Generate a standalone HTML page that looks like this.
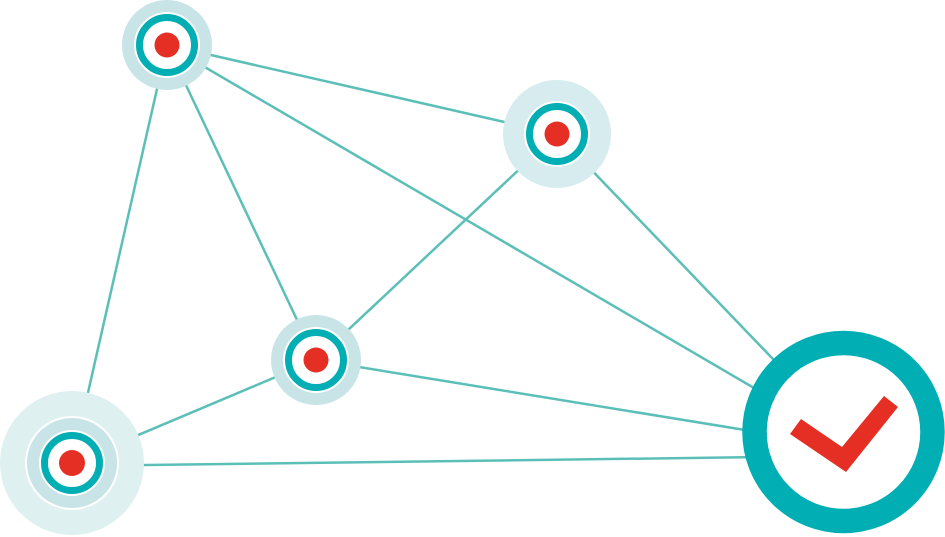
<!DOCTYPE html><html><head><style>html,body{margin:0;padding:0;background:#fff}svg{display:block}</style></head><body>
<svg width="945" height="537" viewBox="0 0 945 537">
<g stroke="#5bbfb8" stroke-width="2.5" fill="none">
<line x1="167" y1="45" x2="557" y2="134"/>
<line x1="167" y1="45" x2="843" y2="440"/>
<line x1="167" y1="45" x2="316" y2="360"/>
<line x1="167" y1="45" x2="72" y2="463"/>
<line x1="557" y1="134" x2="316" y2="360"/>
<line x1="557" y1="134" x2="843" y2="432"/>
<line x1="316" y1="360" x2="72" y2="463"/>
<line x1="316" y1="360" x2="843" y2="446"/>
<line x1="72" y1="466" x2="843" y2="456"/>
</g>
<g>
<circle cx="72" cy="463" r="72" fill="#dff0f1"/>
<circle cx="72" cy="463" r="47" fill="#fff"/>
<circle cx="72" cy="463" r="45" fill="#c8e4e7"/>
<circle cx="72" cy="463" r="33" fill="#fff"/>
<circle cx="72" cy="463" r="27.5" fill="none" stroke="#00aeb3" stroke-width="7"/>
<circle cx="72" cy="463" r="13" fill="#e52f25"/>
</g>
<g>
<circle cx="167" cy="45" r="45" fill="#c8e4e7"/>
<circle cx="167" cy="45" r="33" fill="#fff"/>
<circle cx="167" cy="45" r="27.5" fill="none" stroke="#00aeb3" stroke-width="7"/>
<circle cx="167" cy="45" r="12.5" fill="#e52f25"/>
</g>
<g>
<circle cx="557" cy="134" r="54" fill="#d6ecee"/>
<circle cx="557" cy="134" r="33" fill="#fff"/>
<circle cx="557" cy="134" r="27.5" fill="none" stroke="#00aeb3" stroke-width="7"/>
<circle cx="557" cy="134" r="12.5" fill="#e52f25"/>
</g>
<g>
<circle cx="316" cy="360" r="45" fill="#c8e4e7"/>
<circle cx="316" cy="360" r="33" fill="#fff"/>
<circle cx="316" cy="360" r="27.5" fill="none" stroke="#00aeb3" stroke-width="7"/>
<circle cx="316" cy="360" r="12.5" fill="#e52f25"/>
</g>
<circle cx="843.5" cy="432" r="76.5" fill="#fff"/>
<circle cx="843.5" cy="432" r="89" fill="none" stroke="#00aeb3" stroke-width="24.5"/>
<polygon points="790,434 801,419 842,447 884,396 898,407 846,472" fill="#e52f25"/>
</svg>
</body></html>
